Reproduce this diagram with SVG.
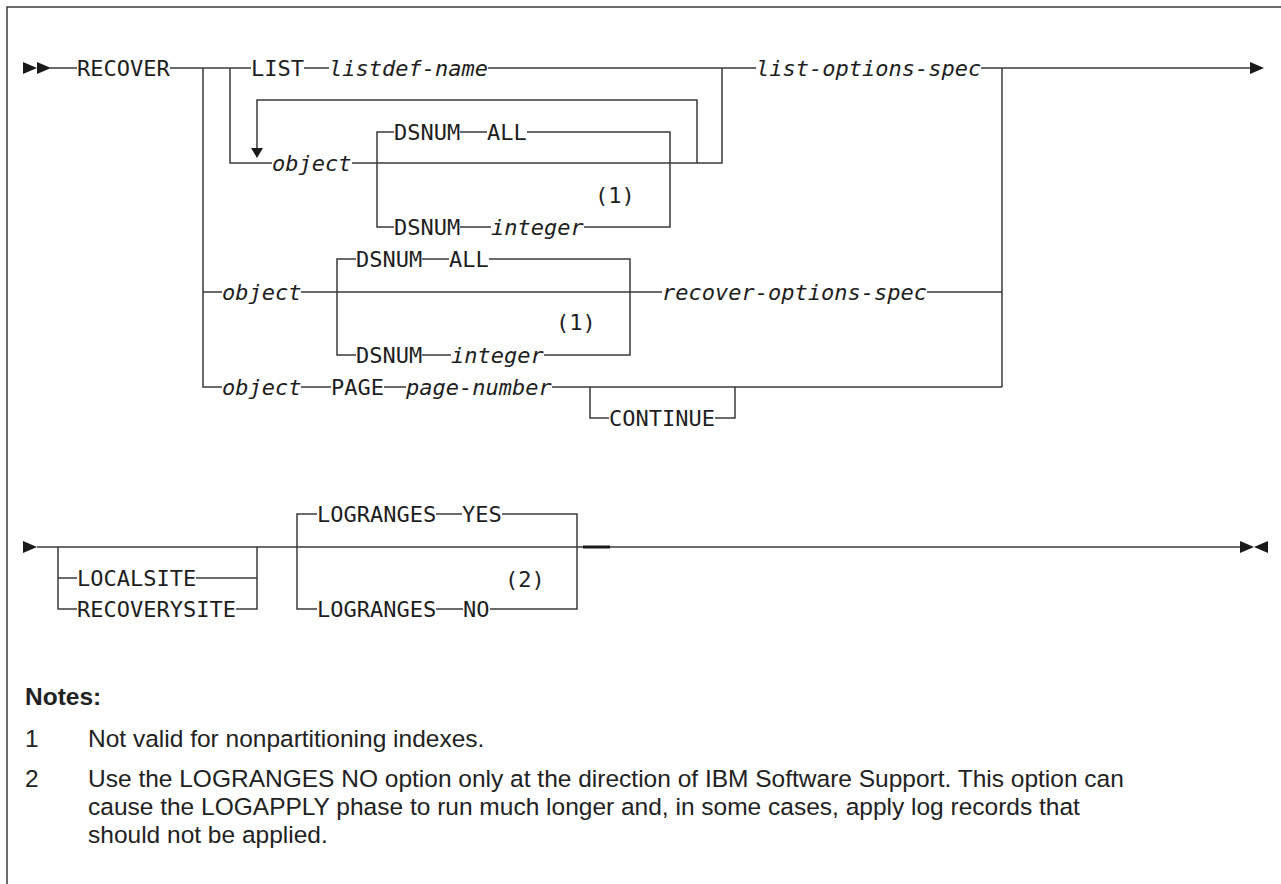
<svg xmlns="http://www.w3.org/2000/svg" width="1281" height="884" viewBox="0 0 1281 884">
<style>
.bg{fill:#ffffff}
.ln{fill:none;stroke:#3a3a3a;stroke-width:1.5}
.thick{fill:none;stroke:#1a1a1a;stroke-width:3}
.ah{fill:#1a1a1a;stroke:none}
.kw{font-family:"DejaVu Sans Mono","Liberation Mono",monospace;font-size:22px;fill:#1e1e1e}
.var{font-family:"DejaVu Sans Mono","Liberation Mono",monospace;font-size:22px;font-style:italic;fill:#1e1e1e}
.nt{font-family:"Liberation Sans",Arial,sans-serif;font-size:24.5px;fill:#222}
.ntb{font-family:"Liberation Sans",Arial,sans-serif;font-size:24.5px;font-weight:bold;fill:#222}
</style>
<rect class="bg" x="0" y="0" width="1281" height="884"/>
<path class="ln" d="M7,884 V7 H1281"/>
<g id="connectors">
  <polygon class="ah" points="23,62 37,68 23,74"/>
  <polygon class="ah" points="37,62 51,68 37,74"/>
  <path class="ln" d="M50,68 H77 M170,68 H251 M304,68 H329 M488,68 H756 M981,68 H1252"/>
  <polygon class="ah" points="1250,62 1264,68 1250,74"/>
  <path class="ln" d="M203,68 V387 H222 M203,292 H222"/>
  <path class="ln" d="M230,68 V163 H272"/>
  <path class="ln" d="M352,163 H722 V68"/>
  <path class="ln" d="M697,163 V100 H257 V149"/>
  <polygon class="ah" points="251,148 263,148 257,158"/>
  <path class="ln" d="M394,132 H377 V227 H394 M460,132 H487 M527,132 H670 V227 H584 M460,227 H491"/>
  <path class="ln" d="M301,292 H662 M927,292 H1002"/>
  <path class="ln" d="M356,259 H337 V355 H356 M422,259 H449 M489,259 H630 V355 H544 M422,355 H451"/>
  <path class="ln" d="M1002,68 V387"/>
  <path class="ln" d="M301,387 H331 M384,387 H406 M552,387 H1002 M590,387 V418 H609 M715,418 H735 V387"/>
  <polygon class="ah" points="23,541 37,547 23,553"/>
  <path class="ln" d="M37,547 H1241"/>
  <path class="thick" d="M583,547 H610"/>
  <polygon class="ah" points="1240,541 1254,547 1240,553"/>
  <polygon class="ah" points="1268,541 1254,547 1268,553"/>
  <path class="ln" d="M58,547 V609 H77 M58,578 H77 M196,578 H257 M236,609 H257 V547"/>
  <path class="ln" d="M317,514 H297 V609 H317 M436,514 H462 M502,514 H577 V609 H490 M436,609 H463"/>
</g>
<g id="n-recover"><text class="kw" x="77" y="75.5">RECOVER</text></g>
<g id="n-list"><text class="kw" x="251" y="75.5">LIST</text></g>
<g id="n-listdef-name"><text class="var" x="329" y="75.5">listdef-name</text></g>
<g id="n-list-options-spec"><text class="var" x="756" y="75.5">list-options-spec</text></g>
<g id="n-object1"><text class="var" x="272" y="170.5">object</text></g>
<g id="n-dsnum-all1"><text class="kw" x="394" y="139.5">DSNUM</text><text class="kw" x="487" y="139.5">ALL</text></g>
<g id="n-dsnum-int1"><text class="kw" x="394" y="234.5">DSNUM</text><text class="var" x="491" y="234.5">integer</text><text class="kw" x="595" y="203">(1)</text></g>
<g id="n-object2"><text class="var" x="222" y="299.5">object</text></g>
<g id="n-dsnum-all2"><text class="kw" x="356" y="266.5">DSNUM</text><text class="kw" x="449" y="266.5">ALL</text></g>
<g id="n-dsnum-int2"><text class="kw" x="356" y="362.5">DSNUM</text><text class="var" x="451" y="362.5">integer</text><text class="kw" x="556" y="330">(1)</text></g>
<g id="n-recover-options-spec"><text class="var" x="662" y="299.5">recover-options-spec</text></g>
<g id="n-object3"><text class="var" x="222" y="394.5">object</text></g>
<g id="n-page"><text class="kw" x="331" y="394.5">PAGE</text></g>
<g id="n-page-number"><text class="var" x="406" y="394.5">page-number</text></g>
<g id="n-continue"><text class="kw" x="609" y="425.5">CONTINUE</text></g>
<g id="n-localsite"><text class="kw" x="77" y="585.5">LOCALSITE</text></g>
<g id="n-recoverysite"><text class="kw" x="77" y="616.5">RECOVERYSITE</text></g>
<g id="n-logranges-yes"><text class="kw" x="317" y="521.5">LOGRANGES</text><text class="kw" x="462" y="521.5">YES</text></g>
<g id="n-logranges-no"><text class="kw" x="317" y="616.5">LOGRANGES</text><text class="kw" x="463" y="616.5">NO</text><text class="kw" x="505" y="587">(2)</text></g>
<g id="notes">
  <text class="ntb" x="25" y="705">Notes:</text>
  <text class="nt" x="25" y="747">1</text>
  <text class="nt" x="88" y="747">Not valid for nonpartitioning indexes.</text>
  <text class="nt" x="25" y="787">2</text>
  <text class="nt" x="88" y="787">Use the LOGRANGES NO option only at the direction of IBM Software Support. This option can</text>
  <text class="nt" x="88" y="815">cause the LOGAPPLY phase to run much longer and, in some cases, apply log records that</text>
  <text class="nt" x="88" y="843">should not be applied.</text>
</g>
</svg>
